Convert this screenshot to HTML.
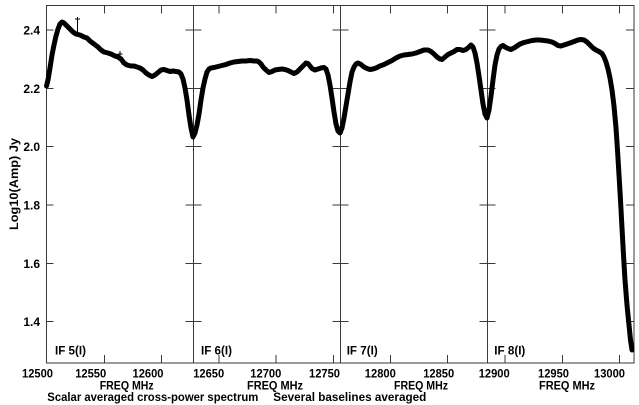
<!DOCTYPE html>
<html><head><meta charset="utf-8"><style>
html,body{margin:0;padding:0;background:#fff;}
svg{display:block;}
text{font-family:"Liberation Sans",Arial,sans-serif;font-weight:bold;font-size:12px;fill:#000;}
</style></head><body>
<svg width="639" height="405" viewBox="0 0 639 405" xmlns="http://www.w3.org/2000/svg">
<rect width="639" height="405" fill="#fff"/>
<g stroke="#3a3a3a" stroke-width="1" fill="none">
<rect x="46.5" y="5.5" width="587.5" height="357.5"/>
<line x1="193.5" y1="5.5" x2="193.5" y2="363"/>
<line x1="340.5" y1="5.5" x2="340.5" y2="363"/>
<line x1="487.5" y1="5.5" x2="487.5" y2="363"/>
<path d="M104.5 5.5v8M161.5 5.5v8M219 5.5v8M276 5.5v8M333.5 5.5v8M390.5 5.5v8M447.5 5.5v8M505 5.5v8M562.5 5.5v8M619.5 5.5v8
M104.5 363v-8M161.5 363v-8M219 363v-8M276 363v-8M333.5 363v-8M390.5 363v-8M447.5 363v-8M505 363v-8M562.5 363v-8M619.5 363v-8"/>
<path d="M46.5 30h7M46.5 88.5h7M46.5 146.5h7M46.5 205h7M46.5 263.5h7M46.5 321.5h7
M185.5 30h16M185.5 88.5h16M185.5 146.5h16M185.5 205h16M185.5 263.5h16M185.5 321.5h16
M332.5 30h16M332.5 88.5h16M332.5 146.5h16M332.5 205h16M332.5 263.5h16M332.5 321.5h16
M479.5 30h16M479.5 88.5h16M479.5 146.5h16M479.5 205h16M479.5 263.5h16M479.5 321.5h16
M634 30h-8M634 88.5h-8M634 146.5h-8M634 205h-8M634 263.5h-8M634 321.5h-8"/>
</g>
<polyline fill="none" stroke="#000" stroke-width="5" stroke-linejoin="round" stroke-linecap="round" points="
46.5,86 48,80 50,68 52,55 54,45 56,36 58,29 60,24 62,22 64,23 66,25 68,27 70,29 73,32 76,34 80,35 84,37 87,38 90,41 94,44 98,47 101,50 104,52 108,53 111,54 115,56 118,57 121,59 124,63 127,65 131,66 134,66 137,67 140,68 143,70 146,73 149,75 152,76.5 155,75 158,72.5 161,70 164,69.5 167,70.5 170,71.5 173,71 176,71.5 179,72 181,74 183,79 185,88 187,100 189,115 191,128 193,137
195,133 197,125 199,114 201,100 203,88 205,79 207,72 209,69 211,68 214,67.5 218,66.5 222,65.5 226,64.5 230,63 234,62 238,61.5 242,61 246,61 250,60.5 254,61 257,61 259,62 261,64 263,67 266,70 269,72.5 272,71.5 275,70 278,69.5 282,69 285,69.5 288,70.5 291,72 294,73.5 297,72 300,69 303,66 306,63 308,63.5 310,66 312,68.5 315,70 318,69 321,68 324,67.5 326,69 328,75 330,85 332,98 334,112 336,124 338,131 340,133
342,128 344,118 346,106 348,94 350,82 352,72 354,67 356,64 358,63 361,64.5 364,67 367,68.5 370,69.5 373,69 376,68 380,66 384,64.5 388,62.5 392,60.5 396,58 400,56 404,55 408,54.5 412,54 416,53 420,51.5 424,50 428,50 431,51.5 434,54 437,57 440,59 442,59.5 445,57 448,54.5 451,53 454,51.5 457,49.5 460,49.5 463,50.5 466,49.5 469,47 471,45 473,47 475,53 477,63 479,76 481,90 483,104 485,114 487,118
489,110 491,96 493,80 495,65 497,55 499,49 501,46.5 503,45.5 505,47 508,48.5 511,49.5 514,48 517,46 520,44 524,42.5 528,41.5 532,40.5 536,40 540,40 544,40.5 548,41 552,42 555,43.5 558,45.5 561,46 564,45 567,44 570,43 574,41.5 578,40 581,39.5 584,40 587,42 590,45 593,48 596,50 599,51.5 602,53.5 604,57 606,62 608,69 610,78 612,90 614,106 616,128 617.5,150 619,175 620.5,200 622,228 623.5,255 625,280 627,305 629,325 630.5,340 632,350"/>
<g stroke="#000" stroke-width="1" fill="none">
<path d="M77.5 17v16M75 19h5M120 51v6M117.5 54h5"/>
</g>
<g text-anchor="end">
<text x="40" y="34.3">2.4</text>
<text x="40" y="92.8">2.2</text>
<text x="40" y="150.8">2.0</text>
<text x="40" y="209.3">1.8</text>
<text x="40" y="267.8">1.6</text>
<text x="40" y="325.8">1.4</text>
</g>
<text transform="translate(18,184) rotate(-90)" text-anchor="middle" textLength="92" lengthAdjust="spacingAndGlyphs">Log10(Amp) Jy</text>
<g text-anchor="middle">
<text x="37.5" y="377.5" textLength="31" lengthAdjust="spacingAndGlyphs">12500</text>
<text x="90.7" y="377.5" textLength="31" lengthAdjust="spacingAndGlyphs">12550</text>
<text x="148" y="377.5" textLength="31" lengthAdjust="spacingAndGlyphs">12600</text>
<text x="208.7" y="377.5" textLength="31" lengthAdjust="spacingAndGlyphs">12650</text>
<text x="265.8" y="377.5" textLength="31" lengthAdjust="spacingAndGlyphs">12700</text>
<text x="324.5" y="377.5" textLength="31" lengthAdjust="spacingAndGlyphs">12750</text>
<text x="380.3" y="377.5" textLength="31" lengthAdjust="spacingAndGlyphs">12800</text>
<text x="438.7" y="377.5" textLength="31" lengthAdjust="spacingAndGlyphs">12850</text>
<text x="494.2" y="377.5" textLength="31" lengthAdjust="spacingAndGlyphs">12900</text>
<text x="553.5" y="377.5" textLength="31" lengthAdjust="spacingAndGlyphs">12950</text>
<text x="609.5" y="377.5" textLength="31" lengthAdjust="spacingAndGlyphs">13000</text>
<text x="126.7" y="389.5" textLength="54" lengthAdjust="spacingAndGlyphs">FREQ MHz</text>
<text x="275" y="389.5" textLength="56" lengthAdjust="spacingAndGlyphs">FREQ MHz</text>
<text x="421" y="389.5" textLength="54" lengthAdjust="spacingAndGlyphs">FREQ MHz</text>
<text x="567" y="389.5" textLength="56" lengthAdjust="spacingAndGlyphs">FREQ MHz</text>
</g>
<text x="47.3" y="401" textLength="211" lengthAdjust="spacingAndGlyphs">Scalar averaged cross-power spectrum</text>
<text x="273.3" y="401" textLength="153" lengthAdjust="spacingAndGlyphs">Several baselines averaged</text>
<text x="55" y="354.5" textLength="31" lengthAdjust="spacingAndGlyphs">IF 5(I)</text>
<text x="201" y="354.5" textLength="31" lengthAdjust="spacingAndGlyphs">IF 6(I)</text>
<text x="346.7" y="354.5" textLength="31" lengthAdjust="spacingAndGlyphs">IF 7(I)</text>
<text x="494.3" y="354.5" textLength="31" lengthAdjust="spacingAndGlyphs">IF 8(I)</text>
</svg>
</body></html>
